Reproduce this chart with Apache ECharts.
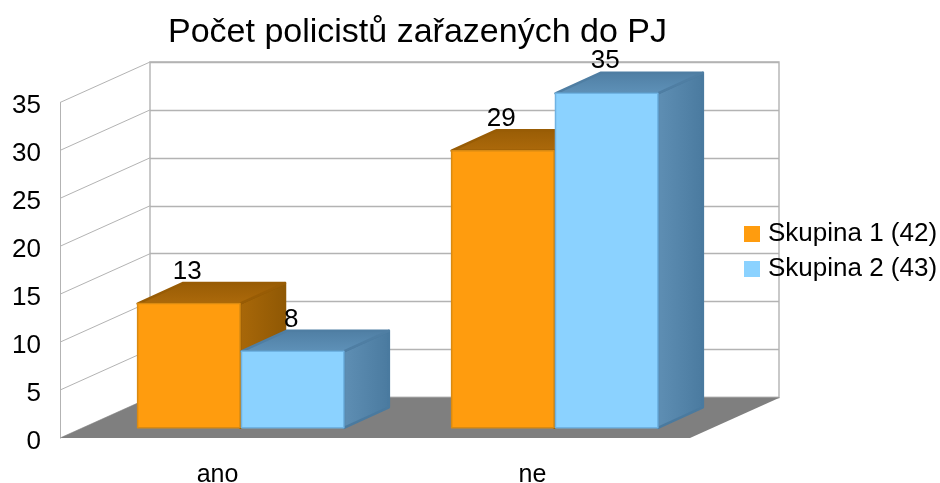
<!DOCTYPE html>
<html>
<head>
<meta charset="utf-8">
<style>html,body{margin:0;padding:0;background:#fff}#c{width:940px;height:483px}</style>
<script src="https://cdn.jsdelivr.net/npm/echarts@6/dist/echarts.min.js"></script>
</head>
<body>
<div id="c"></div>
<script>
const categories = ['ano', 'ne'];
const series1Name = 'Skupina 1 (42)';
const series2Name = 'Skupina 2 (43)';
const series1Values = [13, 29];
const series2Values = [8, 35];
const yTicks = [0, 5, 10, 15, 20, 25, 30, 35];
const titleText = 'Počet policistů zařazených do PJ';

const FONT = '"Liberation Sans", Arial, sans-serif';
const WALL_DX = 90, WALL_DY = -40.5;
const BAR_DX = 45, BAR_DY = -20.5;
const BAR_W = 0.326;
const LINE = '#b3b3b3';

function grad(x2, y2, a, b) {
  return { type: 'linear', x: 0, y: 0, x2: x2, y2: y2, colorStops: [{ offset: 0, color: a }, { offset: 1, color: b }] };
}
function poly(points, fill, stroke, lw, z2) {
  return { type: 'polygon', z2: z2 || 0, shape: { points: points },
    style: { fill: fill, stroke: stroke, lineWidth: lw, lineJoin: 'round' } };
}
function barSeries(name, values, side, c) {
  return {
    name: name, type: 'custom', xAxisIndex: 2, yAxisIndex: 2,
    itemStyle: { color: c.front },
    encode: { x: 0, y: 1 },
    data: categories.map((k, i) => [k, values[i]]),
    renderItem(params, api) {
      const top = api.coord([api.value(0), api.value(1)]);
      const base = api.coord([api.value(0), 0]);
      const band = api.size([1, 0])[0];
      const w = band * BAR_W;
      const x0 = side < 0 ? top[0] - w - 0.5 : top[0] + 1;
      const x1 = x0 + w;
      const y0 = top[1], y1 = base[1];
      return { type: 'group', children: [
        poly([[x1, y0], [x1 + BAR_DX, y0 + BAR_DY], [x1 + BAR_DX, y1 + BAR_DY], [x1, y1]],
          grad(1, 0, c.side0, c.side1), c.side1, 2.5),
        poly([[x0, y0], [x0 + BAR_DX, y0 + BAR_DY], [x1 + BAR_DX, y0 + BAR_DY], [x1, y0]],
          grad(0, 1, c.top1, c.top0), c.top1, 2.5),
        poly([[x0, y0], [x1, y0], [x1, y1], [x0, y1]], c.front, c.edge, 1.5),
        { type: 'text', z2: 20, style: { text: String(api.value(1)), x: x0 + w / 2 - 1.5, y: y0 + BAR_DY - 11.5,
            align: 'center', verticalAlign: 'middle', fill: '#000', font: '26px ' + FONT,
            shadowColor: 'rgba(0,0,0,0.35)', shadowOffsetX: 1, shadowOffsetY: 1, shadowBlur: 1 } }
      ] };
    }
  };
}
const orange = { front: '#ff9c0e', edge: '#d98a12', top0: '#ad6a0b', top1: '#985c05', side0: '#a96809', side1: '#8f5804' };
const blue = { front: '#8bd2ff', edge: '#6fb3e3', top0: '#5f92b9', top1: '#4f7ea3', side0: '#5f8fb4', side1: '#4a7a9f' };

const chart = echarts.init(document.getElementById('c'), null, { renderer: 'canvas' });
chart.setOption({
  animation: false,
  backgroundColor: '#fff',
  title: { text: titleText, left: 163, top: 11, textStyle: { fontFamily: FONT, fontSize: 34, fontWeight: 'normal', color: '#000' } },
  legend: {
    orient: 'vertical', left: 739, top: 216, itemWidth: 16, itemHeight: 16, itemGap: 9, icon: 'rect',
    data: [series1Name, series2Name],
    textStyle: { fontFamily: FONT, fontSize: 26, color: '#000', padding: [0, 0, 0, 3] }
  },
  grid: [
    { left: 60, top: 102.5, width: 630, height: 335.5, outerBoundsMode: 'none' },
    { left: 150, top: 62, width: 629, height: 335.5, outerBoundsMode: 'none', show: true, borderColor: LINE, borderWidth: 1.4, backgroundColor: 'transparent' },
    { left: 83.5, top: 93.3, width: 628, height: 334.5, outerBoundsMode: 'none' }
  ],
  xAxis: [
    { type: 'category', gridIndex: 0, data: categories, axisLine: { show: false }, axisTick: { show: false },
      axisLabel: { margin: 25, fontFamily: FONT, fontSize: 25, color: '#000' } },
    { type: 'category', gridIndex: 1, data: categories, show: false },
    { type: 'category', gridIndex: 2, data: categories, show: false }
  ],
  yAxis: [
    { type: 'value', gridIndex: 0, min: 0, max: 35, interval: 5, splitLine: { show: false },
      axisLine: { show: true, lineStyle: { color: LINE, width: 1 } }, axisTick: { show: false },
      axisLabel: { margin: 19, formatter: '{a|{value}}', rich: { a: { padding: [7, 0, 0, 0], fontFamily: FONT, fontSize: 26, color: '#000' } } } },
    { type: 'value', gridIndex: 1, min: 0, max: 35, interval: 5, axisLine: { show: false }, axisTick: { show: false }, axisLabel: { show: false },
      splitLine: { show: true, lineStyle: { color: LINE, width: 1.3 } } },
    { type: 'value', gridIndex: 2, min: 0, max: 35, interval: 5, show: false }
  ],
  series: [
    { type: 'custom', name: 'walls', xAxisIndex: 0, yAxisIndex: 0, silent: true, data: yTicks.map(v => [categories[0], v]),
      encode: { x: 0, y: 1 },
      renderItem(params, api) {
        const p = api.coord([api.value(0), api.value(1)]);
        const x = params.coordSys.x;
        return { type: 'line', shape: { x1: x, y1: p[1], x2: x + WALL_DX, y2: p[1] + WALL_DY }, style: { stroke: LINE, lineWidth: 1 } };
      } },
    { type: 'custom', name: 'floor', xAxisIndex: 0, yAxisIndex: 0, silent: true, data: [[categories[0], 0]],
      encode: { x: 0, y: 1 },
      renderItem(params, api) {
        const p = api.coord([api.value(0), 0]);
        const c = params.coordSys;
        return { type: 'polygon', shape: { points: [[c.x, p[1]], [c.x + c.width, p[1]], [c.x + c.width + WALL_DX, p[1] + WALL_DY], [c.x + WALL_DX, p[1] + WALL_DY]] },
          style: { fill: '#7f7f7f' } };
      } },
    barSeries(series1Name, series1Values, -1, orange),
    barSeries(series2Name, series2Values, 1, blue)
  ]
});
</script>
</body>
</html>
